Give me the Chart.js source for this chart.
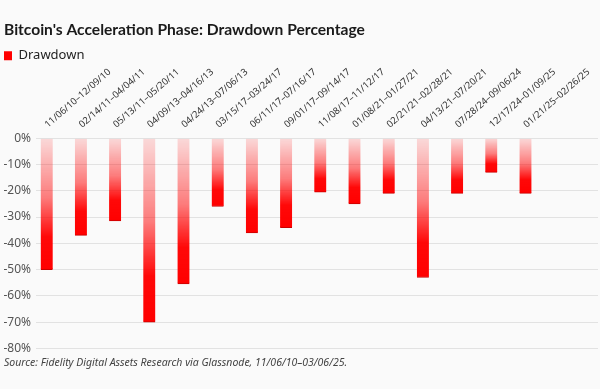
<!DOCTYPE html>
<html>
<head>
<meta charset="utf-8">
<script src="https://cdn.jsdelivr.net/npm/chart.js@4/dist/chart.umd.min.js"></script>
<style>
  html, body { margin: 0; padding: 0; background: #fafafa; }
  canvas { display: block; }
</style>
</head>
<body>
<canvas id="drawdown-chart" width="600" height="389"></canvas>
<script>
// data
var periods = ["11/06/10–12/09/10", "02/14/11–04/04/11", "05/13/11–05/20/11", "04/09/13–04/16/13",
    "04/24/13–07/06/13", "03/15/17–03/24/17", "06/11/17–07/16/17", "09/01/17–09/14/17",
    "11/08/17–11/12/17", "01/08/21–01/27/21", "02/21/21–02/28/21", "04/13/21–07/20/21",
    "07/28/24–09/06/24", "12/17/24–01/09/25", "01/21/25–02/26/25"];
var drawdown = [-50, -37, -31.5, -70, -55.5, -26, -36, -34, -20.5, -25, -21, -53, -21, -13, -21];
var yTicks = [0, -10, -20, -30, -40, -50, -60, -70, -80];

(function () {
    "use strict";
    var points = drawdown.map(function (v, i) { return { x: i, y: v }; });

    function barGradient(ctx) {
        var chart = ctx.chart;
        var y = chart.scales.y;
        if (!y || ctx.raw === undefined) return "#ff0000";
        var top = y.getPixelForValue(0);
        var bottom = y.getPixelForValue(ctx.raw.y);
        if (!isFinite(top) || !isFinite(bottom) || top === bottom) return "#ff0000";
        var g = chart.ctx.createLinearGradient(0, top, 0, bottom);
        g.addColorStop(0, "rgba(255,0,0,0.13)");
        g.addColorStop(0.45, "rgba(255,0,0,0.5)");
        g.addColorStop(0.75, "rgba(255,0,0,0.97)");
        g.addColorStop(1, "#ff0000");
        return g;
    }

    new Chart(document.getElementById("drawdown-chart"), {
        type: 'bar',
        data: {
            datasets: [
                {
                    label: "Drawdown",
                    data: points,
                    backgroundColor: barGradient,
                    borderColor: "#c80000",
                    borderWidth: { top: 0, left: 0, right: 0, bottom: 1 },
                    borderSkipped: false,
                    barThickness: 12
                }
            ]
        },
        options: {
            responsive: false,
            animation: false,
            devicePixelRatio: 1,
            layout: {
                padding: { left: 4, right: 2, top: 0, bottom: 0 }
            },
            plugins: {
                title: {
                    display: true,
                    text: "Bitcoin's Acceleration Phase: Drawdown Percentage",
                    align: 'start',
                    color: '#1a1a1a',
                    font: { family: 'Lato', size: 15.6, weight: 'bold' },
                    padding: { top: 21, bottom: 9.5 }
                },
                subtitle: {
                    display: true,
                    position: 'bottom',
                    text: "Source: Fidelity Digital Assets Research via Glassnode, 11/06/10–03/06/25.",
                    align: 'start',
                    color: '#444',
                    font: { family: 'Noto Sans', size: 10.5, style: 'italic' },
                    padding: { top: 8, bottom: 20 }
                },
                legend: {
                    display: true,
                    align: 'start',
                    labels: {
                        boxWidth: 8,
                        boxHeight: 9,
                        padding: 0,
                        color: '#222',
                        font: { family: 'Noto Sans', size: 13 },
                        generateLabels: function (chart) {
                            var items = Chart.defaults.plugins.legend.labels.generateLabels(chart);
                            items.forEach(function (it) {
                                it.fillStyle = '#ff0000';
                                it.strokeStyle = '#ff0000';
                                it.lineWidth = 0;
                            });
                            return items;
                        }
                    }
                },
                tooltip: { enabled: false }
            },
            scales: {
                x: {
                    type: 'linear',
                    position: 'top',
                    offset: false,
                    min: -0.313,
                    max: 16.12,
                    bounds: 'data',
                    grid: { display: false, offset: false },
                    border: { display: false },
                    afterBuildTicks: function (scale) {
                        scale.ticks = periods.map(function (p, i) { return { value: i }; });
                    },
                    afterFit: function (scale) {
                        scale.paddingLeft = 0;
                        scale.paddingRight = 0;
                        scale.height = 66;
                        // let the slanted labels run up past the axis box
                        scale._computeLabelArea = function () { return undefined; };
                    },
                    ticks: {
                        autoSkip: false,
                        minRotation: 41,
                        maxRotation: 41,
                        padding: 0,
                        labelOffset: 7,
                        color: '#333',
                        font: { family: 'Noto Sans', size: 9.5 },
                        callback: function (v) { return periods[v]; }
                    }
                },
                y: {
                    min: -80,
                    max: 0,
                    afterBuildTicks: function (scale) {
                        scale.ticks = yTicks.map(function (v) { return { value: v }; });
                    },
                    afterFit: function (scale) { scale.width = 32; },
                    grid: { color: '#e2e2e2', drawTicks: false },
                    border: { display: false },
                    ticks: {
                        padding: 5,
                        color: '#555',
                        font: { family: 'Noto Sans', size: 12 },
                        callback: function (v) { return v + '%'; }
                    }
                }
            }
        }
    });
})();
</script>
</body>
</html>
